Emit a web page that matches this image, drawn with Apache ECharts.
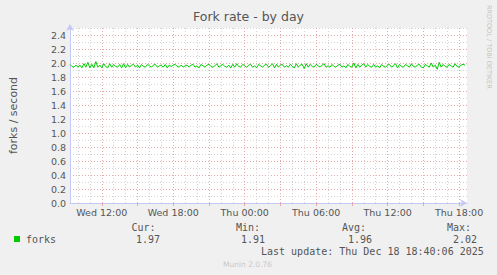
<!DOCTYPE html>
<html><head><meta charset="utf-8">
<script src="https://cdn.jsdelivr.net/npm/echarts@6/dist/echarts.min.js"></script>
<style>html,body{margin:0;padding:0;background:#f0f0f0}#c{width:497px;height:275px}</style>
</head><body><div id="c"></div>
<script>
// ---- data ----
const chartTitle = 'Fork rate - by day';
const yAxisName = 'forks / second';
const seriesName = 'forks';
const startMinutes = 9 * 60 + 20;   // first sample: Wed 09:20
const stepMinutes = 10;
const dayNames = ['Wed', 'Thu'];
const forkRate = [
  1.98,1.95,1.94,1.97,1.94,1.97,1.93,1.99,1.94,2.01,1.93,1.98,1.93,2.02,1.94,1.97,1.93,1.99,1.95,1.93,
  1.99,1.94,1.98,1.95,1.94,1.98,1.93,1.99,1.93,1.98,1.94,1.97,1.98,1.94,1.97,1.93,1.98,1.95,1.94,1.98,
  1.96,1.94,1.97,1.98,1.94,1.96,1.97,1.94,1.98,1.93,1.97,1.95,1.97,1.98,1.95,1.94,1.97,1.94,1.96,1.97,
  1.94,1.97,1.98,1.94,1.96,1.93,1.98,1.96,1.94,1.97,1.98,1.95,1.94,1.96,1.99,1.94,1.96,1.98,1.95,1.94,
  1.97,1.93,1.98,1.94,1.99,1.95,1.94,1.98,1.96,1.94,1.97,1.98,1.94,1.96,1.93,1.98,1.96,1.94,1.97,1.98,
  1.94,1.96,1.99,1.93,1.98,1.94,1.97,1.98,1.94,1.96,1.94,1.98,1.95,1.93,1.99,1.94,1.97,1.98,1.92,1.99,
  1.94,1.98,1.95,1.94,1.98,1.96,1.94,1.97,1.99,1.94,1.96,1.94,1.98,1.95,1.94,1.97,1.98,1.94,1.96,1.93,
  1.98,1.95,1.94,2.00,1.93,1.98,1.94,1.97,1.99,1.94,1.98,1.95,1.94,1.98,1.94,1.96,1.93,1.98,1.95,1.94,
  1.97,1.98,1.94,1.96,1.99,1.93,1.98,1.95,1.94,1.98,1.96,1.94,1.99,1.95,1.94,1.97,1.98,1.94,1.93,1.98,
  1.96,1.94,2.00,1.94,1.97,1.91,2.01,1.94,1.98,1.95,1.94,1.98,1.96,1.94,1.99,1.95,1.94,1.97,1.98,1.97
];
const legendHeaders = ['Cur:', 'Min:', 'Avg:', 'Max:'];
const legendValues = ['1.97', '1.91', '1.96', '2.02'];
const lastUpdate = 'Last update: Thu Dec 18 18:40:06 2025';
const footer = 'Munin 2.0.76';
const sideText = 'RRDTOOL / TOBI OETIKER';

// categories (time slots)
const timeLabels = [];
for (let i = 0; i <= forkRate.length; i++) {
  const m = startMinutes + i * stepMinutes;
  const d = dayNames[Math.floor(m / 1440)];
  const mm = m % 1440;
  const hh = String(Math.floor(mm / 60)).padStart(2, '0');
  const mi = String(mm % 60).padStart(2, '0');
  timeLabels.push(d + ' ' + hh + ':' + mi);
}
function hourOf(v) { return parseInt(v.slice(4, 6), 10); }
function isHour(v) { return v.slice(7) === '00'; }
const hourly = (i, v) => isHour(v) && hourOf(v) % 3 !== 0;
const threeHourly = (i, v) => isHour(v) && hourOf(v) % 3 === 0;
const sixHourly = (i, v) => isHour(v) && hourOf(v) % 6 === 0;

const GREY = '#d4d4d4', RED = '#e6aaaa', AXIS = '#c4c8f4', TXT = '#555555';
const SANS = 'DejaVu Sans';

const chart = echarts.init(document.getElementById('c'), null, {renderer: 'svg'});
const graphics = [
  {type: 'text', left: 'center', top: 10, style: {text: chartTitle, font: '12.5px "DejaVu Sans"', fill: TXT}},
  {type: 'text', x: 492, y: 5, rotation: -Math.PI / 2, style: {text: sideText, font: '6.5px "DejaVu Sans"', fill: '#c4c4c4', textAlign: 'left', textVerticalAlign: 'top'}},
  {type: 'rect', shape: {x: 14, y: 236, width: 6, height: 6}, style: {fill: '#00cc00'}},
  {type: 'text', x: 26, y: 239, style: {text: seriesName, font: '10px "DejaVu Sans Mono"', fill: TXT, textVerticalAlign: 'middle'}},
  {type: 'text', x: 261, y: 251, style: {text: lastUpdate, font: '10px "DejaVu Sans Mono"', fill: TXT, textVerticalAlign: 'middle'}},
  {type: 'text', x: 223, y: 264, style: {text: footer, font: '7.5px "DejaVu Sans"', fill: '#c8c8c8', textVerticalAlign: 'middle'}}
];
const hdrX = [131.5, 236, 342, 447];
const valX = [136, 241, 348, 453];
legendHeaders.forEach((h, k) => {
  graphics.push({type: 'text', x: hdrX[k], y: 227, style: {text: h, font: '10px "DejaVu Sans Mono"', fill: TXT, textVerticalAlign: 'middle'}});
  graphics.push({type: 'text', x: valX[k], y: 239, style: {text: legendValues[k], font: '10px "DejaVu Sans Mono"', fill: TXT, textVerticalAlign: 'middle'}});
});

chart.setOption({
  animation: false,
  backgroundColor: '#f0f0f0',
  grid: {left: 67, right: 30, top: 28, bottom: 72, show: true, backgroundColor: '#ffffff', borderWidth: 0},
  xAxis: [
    {type: 'category', data: timeLabels, boundaryGap: false,
      axisLine: {show: true, lineStyle: {color: AXIS, width: 1}, symbol: ['none', 'arrow'], symbolSize: [6, 7], symbolOffset: [0, 0]},
      axisTick: {show: false}, axisLabel: {show: false},
      splitLine: {show: true, interval: hourly, lineStyle: {color: GREY, type: [1, 2], width: 1}}},
    {type: 'category', data: timeLabels, boundaryGap: false, position: 'bottom',
      axisLine: {show: false},
      axisTick: {show: true, interval: threeHourly, length: 3, inside: false, lineStyle: {color: RED, width: 1}},
      axisLabel: {show: true, interval: sixHourly, margin: 4, fontFamily: SANS, fontSize: 9.5, color: TXT},
      splitLine: {show: true, interval: threeHourly, lineStyle: {color: RED, type: [1, 2], width: 1}}}
  ],
  yAxis: [
    {type: 'value', min: 0, max: 2.5, interval: 0.1, name: yAxisName, nameLocation: 'middle', nameGap: 51,
      nameTextStyle: {fontFamily: SANS, fontSize: 11, color: TXT},
      axisLine: {show: true, lineStyle: {color: AXIS, width: 1}, symbol: ['none', 'arrow'], symbolSize: [6, 7], symbolOffset: [0, 4]},
      axisTick: {show: false},
      axisLabel: {margin: 4, fontFamily: SANS, fontSize: 9.5, color: TXT,
        formatter: v => (Math.round(v * 10) % 2 === 0 && v < 2.45) ? v.toFixed(1) : ''},
      splitLine: {show: true, lineStyle: {color: [RED, GREY], type: [1, 2], width: 1}}}
  ],
  series: [{
    name: seriesName, type: 'line', data: forkRate, xAxisIndex: 0, yAxisIndex: 0,
    showSymbol: false, symbol: 'none', lineStyle: {color: '#00cc00', width: 1}, itemStyle: {color: '#00cc00'}
  }],
  graphic: graphics
});
</script></body></html>
